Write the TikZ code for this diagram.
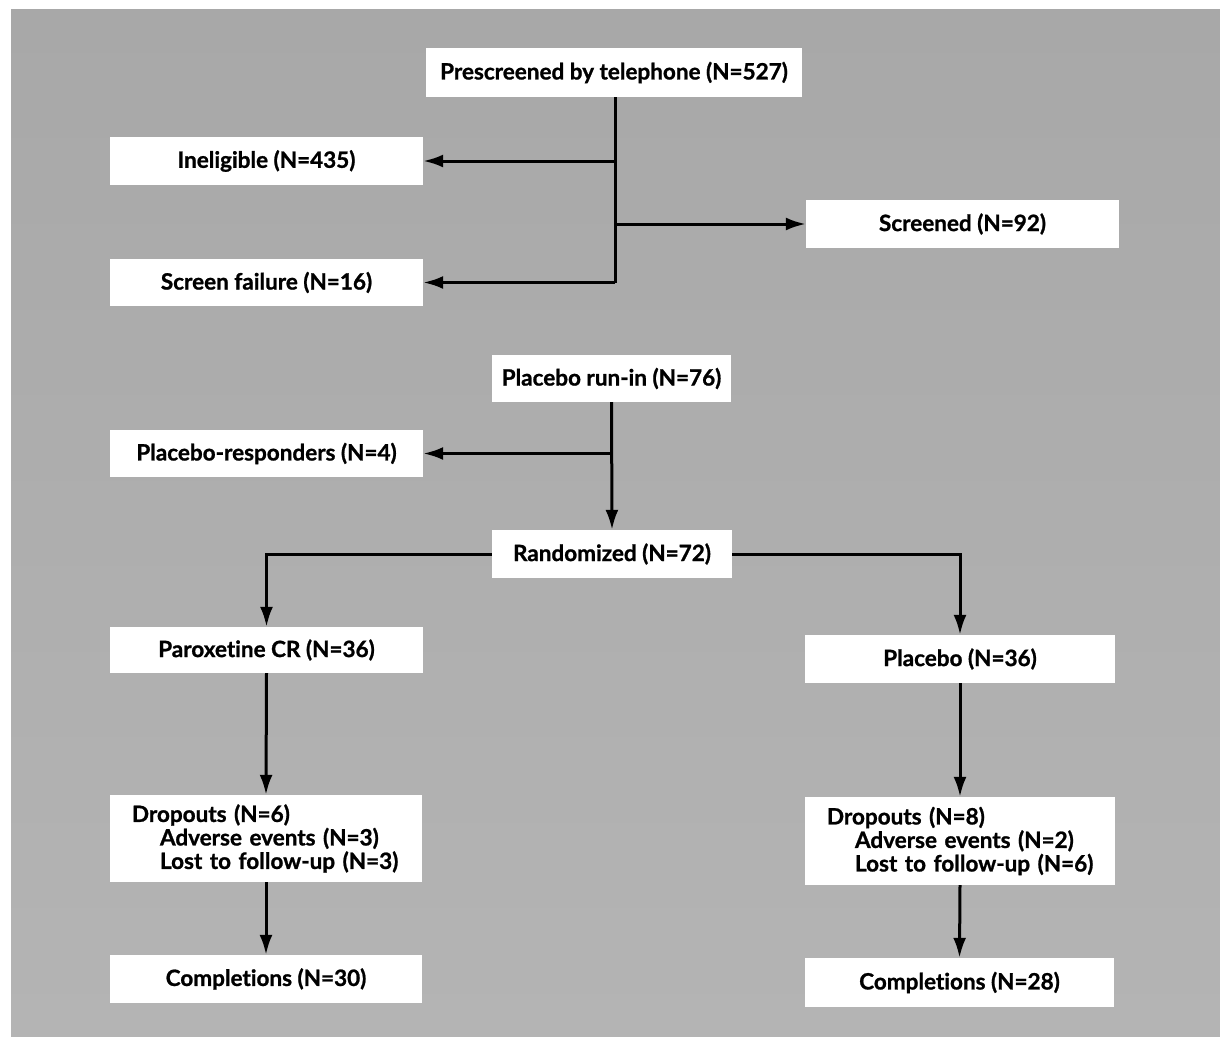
\documentclass[tikz,border=0pt]{standalone}
\usepackage{fontspec}
\setmainfont{Lato}[Ligatures=NoCommon, BoldFeatures={FakeBold=1}]
\usetikzlibrary{arrows.meta,calc}
\definecolor{bggray}{RGB}{168,168,168}
\definecolor{bggraylight}{RGB}{180,180,180}
\tikzset{
  box/.style={fill=white, draw=none, inner sep=0pt, font=\fontsize{22.5}{23.5}\selectfont\bfseries},
  listbox/.style={box, inner xsep=0pt, align=left},
  conn/.style={line width=3pt},
  arr/.style={line width=3pt, -{Latex[length=20pt,width=13pt]}},
}
\newcommand{\firstln}{\hspace*{22pt}}
\newcommand{\subln}{\hspace*{50pt}}
\begin{document}
\begin{tikzpicture}[x=1pt,y=-1pt]
\useasboundingbox (0,0) rectangle (1220,1036);
\shade[top color=bggray, bottom color=bggraylight] (11,9) rectangle (1220,1036);

\node[box, minimum width=376pt, minimum height=49pt] (pre) at (614,72.5) {Prescreened by telephone (N=527)};
\node[box, minimum width=313pt, minimum height=48pt] (inel) at (266.5,161) {Ineligible (N=435)};
\node[box, minimum width=313pt, minimum height=48pt] (scr) at (962.5,224) {Screened (N=92)};
\node[box, minimum width=313pt, minimum height=47pt] (sf) at (266.5,282.5) {Screen failure (N=16)};
\node[box, minimum width=239pt, minimum height=47pt] (run) at (611.5,378.5) {Placebo run-in (N=76)};
\node[box, minimum width=313pt, minimum height=47pt] (resp) at (266.5,453.5) {Placebo-responders (N=4)};
\node[box, minimum width=240pt, minimum height=48pt] (rand) at (612,554) {Randomized (N=72)};
\node[box, minimum width=313pt, minimum height=46pt] (parox) at (266.5,650) {Paroxetine CR (N=36)};
\node[box, minimum width=310pt, minimum height=48pt] (plac) at (960,659) {Placebo (N=36)};
\node[listbox, minimum width=312pt, minimum height=87pt, text width=312pt] (dropL) at (266,838.5)
  {\firstln Dropouts (N=6)\\\subln Adverse events (N=3)\\\subln Lost to follow-up (N=3)};
\node[listbox, minimum width=310pt, minimum height=88pt, text width=310pt] (dropR) at (960,841)
  {\firstln Dropouts (N=8)\\\subln Adverse events (N=2)\\\subln Lost to follow-up (N=6)};
\node[box, minimum width=312pt, minimum height=48pt] (compL) at (266,979) {Completions (N=30)};
\node[box, minimum width=309pt, minimum height=49pt] (compR) at (959.5,982.5) {Completions (N=28)};

% screening stage
\coordinate (t1) at ($(pre.south)+(1,0)$);
\draw[conn] (t1) -- (t1 |- sf.east);
\draw[arr] (t1 |- inel.east) -- (inel.east);
\draw[arr] (t1 |- scr.west) -- (scr.west);
\draw[arr] (t1 |- sf.east) -- (sf.east);

% run-in stage
\draw[arr] (run.south) -- (rand.north);
\draw[arr] (run.south |- resp.east) -- (resp.east);

% randomization
\draw[arr] (rand.west) -| (parox.north);
\draw[arr] (rand.east) -| (plac.north);

% arms
\draw[arr] (parox.south) -- (dropL.north);
\draw[arr] (dropL.south) -- (compL.north);
\draw[arr] (plac.south) -- (dropR.north);
\draw[arr] (dropR.south) -- (compR.north);
\end{tikzpicture}
\end{document}
